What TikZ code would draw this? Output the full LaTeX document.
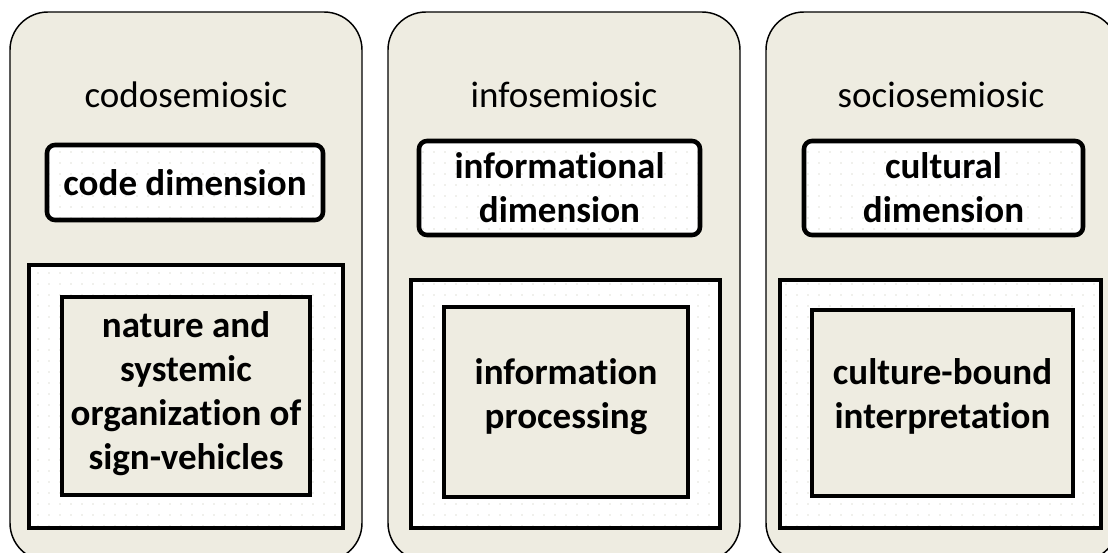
\documentclass[tikz,border=0pt]{standalone}
\usepackage{fontspec}
\setmainfont{Carlito}[Ligatures={NoCommon,NoContextual}]
\usetikzlibrary{fit,patterns.meta}

\definecolor{panelfill}{HTML}{EEECE1}
\definecolor{dotgrey}{HTML}{E2E2DA}

% sparse dot texture used inside the white frames
\tikzdeclarepattern{
  name=sparsedots,
  type=uncolored,
  bounding box={(0pt,0pt) and (8.25pt,8.25pt)},
  tile size={(8.25pt,8.25pt)},
  code={\fill (4.1pt,4.1pt) circle (0.7pt);}
}

\newcommand{\labelfont}{\fontsize{27.75}{33}\selectfont}

\tikzset{
  panel/.style={draw=black, line width=1.1pt, fill=panelfill,
    rounded corners=28.5pt, inner sep=0pt},
  paneltitle/.style={font=\labelfont, anchor=base, inner sep=0pt},
  dimbox/.style={draw=black, line width=3.4pt, rounded corners=6pt,
    preaction={fill=white}, pattern=sparsedots, pattern color=dotgrey,
    inner sep=0pt},
  framebox/.style={draw=black, line width=3.6pt,
    preaction={fill=white}, pattern=sparsedots, pattern color=dotgrey,
    inner sep=0pt},
  corebox/.style={draw=black, line width=3.6pt, fill=panelfill,
    inner sep=0pt},
  boxtext/.style={inner sep=0pt, align=center, font=\bfseries\labelfont},
}

\begin{document}
\begin{tikzpicture}[x=0.75pt, y=-0.75pt]
  \useasboundingbox (0,0) rectangle (1108,553);
  \clip (0,0) rectangle (1108,553);
  \fill[white] (0,0) rectangle (1108,553);

  % three semiotic panels
  \node[panel, fit={(10,12) (362,561)}] (p1) {};
  \node[panel, fit={(388,12) (740,561)}] (p2) {};
  \node[panel, fit={(766,12) (1118,561)}] (p3) {};

  % panel titles
  \node[paneltitle] (t1) at (186,107) {codosemiosic};
  \node[paneltitle] (t2) at (564,107) {infosemiosic};
  \node[paneltitle] (t3) at (941,107) {sociosemiosic};

  % dimension boxes
  \node[dimbox, fit={(47,145) (323,220)}] (d1) {};
  \node[dimbox, fit={(419,141) (700,235)}] (d2) {};
  \node[dimbox, fit={(804,141) (1083,235)}] (d3) {};
  \node[boxtext] (d1t) at (d1.center) {code dimension};
  \node[boxtext] (d2t) at (d2.center) {informational\\dimension};
  \node[boxtext] (d3t) at (d3.center) {cultural\\dimension};

  % outer frames
  \node[framebox, fit={(29,265) (343,528)}] (f1) {};
  \node[framebox, fit={(411,280) (720,528)}] (f2) {};
  \node[framebox, fit={(780,280) (1101,528)}] (f3) {};

  % inner boxes
  \node[corebox, fit={(62,297) (310,495)}] (c1) {};
  \node[corebox, fit={(444,307) (688,497)}] (c2) {};
  \node[corebox, fit={(812,310) (1073,496)}] (c3) {};
  \node[boxtext] (c1t) at ([yshift=2pt]c1.center)
    {nature and\\systemic\\organization of\\sign-vehicles};
  \node[boxtext] (c2t) at ([yshift=4pt]c2.center) {information\\processing};
  \node[boxtext] (c3t) at ([yshift=5pt]c3.center) {culture-bound\\interpretation};
\end{tikzpicture}
\end{document}
